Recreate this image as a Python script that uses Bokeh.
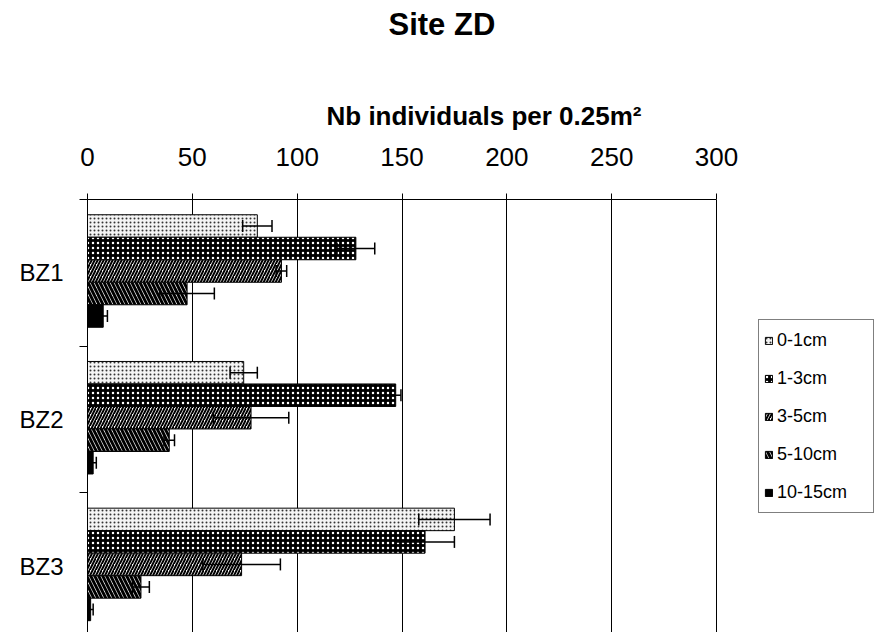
from bokeh.plotting import figure
from bokeh.models import (ColumnDataSource, Range1d, FixedTicker, Whisker, TeeHead,
                          Legend, LegendItem, Title)
from bokeh.embed import file_html
from bokeh.resources import INLINE

# ---------------- data ----------------
categories = ["BZ1", "BZ2", "BZ3"]
series = ["0-1cm", "1-3cm", "3-5cm", "5-10cm", "10-15cm"]

v_0_1 = [81, 74.5, 175]
e_0_1 = [7, 6.5, 17]
v_1_3 = [128, 147, 161]
e_1_3 = [9, 2.5, 14]
v_3_5 = [92.5, 78, 73.5]
e_3_5 = [2.5, 18, 18.5]
v_5_10 = [47.5, 39, 25.5]
e_5_10 = [13, 2.5, 4]
v_10_15 = [7.5, 2.7, 1.5]
e_10_15 = [2, 1.5, 1.2]

values = [v_0_1, v_1_3, v_3_5, v_5_10, v_10_15]
errors = [e_0_1, e_1_3, e_3_5, e_5_10, e_10_15]

x_ticks = [0, 50, 100, 150, 200, 250, 300]
X_MAX = 300

# ---------------- styles ----------------
FONT = "Liberation Sans"
styles = [
    dict(fill_color="#f4f4f4", hatch_pattern="dot", hatch_color="#333333", hatch_scale=4, hatch_weight=1),
    dict(fill_color="black", hatch_pattern="dot", hatch_color="white", hatch_scale=5, hatch_weight=0.4),
    dict(fill_color="white", hatch_pattern="right_diagonal_line", hatch_color="black", hatch_scale=6, hatch_weight=2),
    dict(fill_color="white", hatch_pattern="left_diagonal_line", hatch_color="black", hatch_scale=8, hatch_weight=3),
    dict(fill_color="black"),
]

W, H = 880, 632
LEFT, TOP = 87, 199
AXIS_PX = 629                 # pixel length of the 0..300 value axis
FRAME_W = W - LEFT            # frame also holds the legend area on the right
FRAME_H = H - TOP
CAT_PX = 146.7

GROUP_TOP = 0.104   # gap above the first bar inside a category (fraction)
BAR_H = 0.1534      # bar thickness (fraction of a category)

p = figure(width=W, height=H, output_backend="svg", toolbar_location=None,
           x_range=Range1d(0, X_MAX * FRAME_W / AXIS_PX),
           y_range=Range1d(FRAME_H / CAT_PX, 0),
           x_axis_location="above",
           min_border_left=LEFT, min_border_right=0,
           min_border_top=TOP, min_border_bottom=0)
p.outline_line_color = None
p.background_fill_color = "white"
p.border_fill_color = "white"

items = []
for j, name in enumerate(series):
    vals = values[j]
    errs = errors[j]
    ys = [i + GROUP_TOP + BAR_H * (j + 0.5) for i in range(len(categories))]
    src = ColumnDataSource(dict(
        y=ys, right=vals,
        lower=[v - e for v, e in zip(vals, errs)],
        upper=[v + e for v, e in zip(vals, errs)],
    ))
    r = p.hbar(y="y", left=0, right="right", height=BAR_H, source=src,
               line_color="black", line_width=1, **styles[j])
    items.append(LegendItem(label=name, renderers=[r]))
    w = Whisker(base="y", lower="lower", upper="upper", dimension="width", source=src,
                line_color="black", line_width=1.5,
                upper_head=TeeHead(size=12, line_color="black", line_width=1.5),
                lower_head=TeeHead(size=12, line_color="black", line_width=1.5))
    w.level = "overlay"
    p.add_layout(w)

# grid
p.xgrid.ticker = FixedTicker(ticks=x_ticks)
p.xgrid.grid_line_color = "black"
p.xgrid.grid_line_width = 1
p.ygrid.visible = False

# top x axis
xa = p.xaxis[0]
xa.bounds = (0, X_MAX)
xa.ticker = FixedTicker(ticks=x_ticks)
xa.axis_line_color = "black"
xa.major_tick_out = 6
xa.major_tick_in = 0
xa.minor_tick_out = 0
xa.major_tick_line_color = "black"
xa.major_label_text_font = FONT
xa.major_label_text_font_size = "26px"
xa.major_label_text_color = "black"
xa.major_label_standoff = 28
xa.axis_label = "Nb individuals per 0.25m²"
xa.axis_label_text_font = FONT
xa.axis_label_text_font_size = "26px"
xa.axis_label_text_font_style = "bold"
xa.axis_label_text_color = "black"
xa.axis_label_standoff = 14

# left y axis (categories)
ya = p.yaxis[0]
ya.ticker = FixedTicker(ticks=[i + 0.5 for i in range(len(categories))],
                        minor_ticks=list(range(len(categories) + 1)))
ya.major_label_overrides = {i + 0.5: c for i, c in enumerate(categories)}
ya.major_tick_out = 0
ya.major_tick_in = 0
ya.minor_tick_out = 8
ya.minor_tick_in = 0
ya.minor_tick_line_color = "black"
ya.axis_line_color = "black"
ya.major_label_text_font = FONT
ya.major_label_text_font_size = "24px"
ya.major_label_text_color = "black"
ya.major_label_standoff = 16

# legend (inside the widened frame, right of the value axis)
legend = Legend(items=items, location=(758 - LEFT, H - 513))
legend.border_line_color = "black"
legend.border_line_width = 1
legend.background_fill_color = "white"
legend.background_fill_alpha = 1
legend.label_text_font = FONT
legend.label_text_font_size = "18px"
legend.label_text_color = "black"
legend.glyph_width = 9
legend.glyph_height = 9
legend.label_height = 30
legend.label_width = 91
legend.label_standoff = 4
legend.spacing = 8
legend.padding = 5
legend.margin = 0
p.add_layout(legend)

# spacer between the axis title and the chart title
spacer = Title(text=" ", text_font_size="1px")
if "standoff" in spacer.properties():
    spacer.standoff = 51
p.add_layout(spacer, "above")

# chart title
p.title.text = "Site ZD"
p.title.align = "left"
p.title.offset = 388 - LEFT
p.title.text_font = FONT
p.title.text_font_size = "31px"
p.title.text_font_style = "bold"
p.title.text_color = "black"
if "standoff" in p.title.properties():
    p.title.standoff = 4

open("out.html", "w").write(file_html(p, INLINE))
